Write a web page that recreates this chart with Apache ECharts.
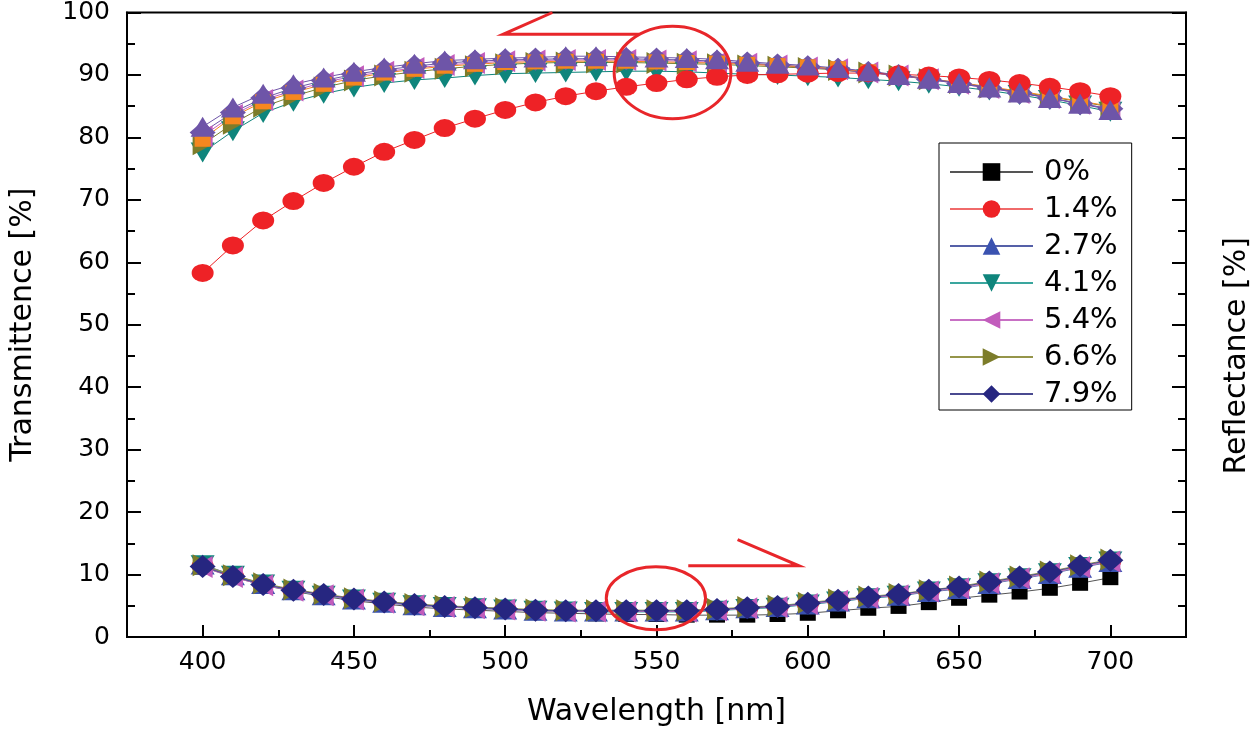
<!DOCTYPE html>
<html><head><meta charset="utf-8">
<script src="https://cdn.jsdelivr.net/npm/echarts@6/dist/echarts.min.js"></script>
<style>html,body{margin:0;padding:0;background:#fff}#c{width:1260px;height:732px}</style>
</head><body><div id="c"></div><script>
const wavelengths = [400,410,420,430,440,450,460,470,480,490,500,510,520,530,540,550,560,570,580,590,600,610,620,630,640,650,660,670,680,690,700];
const seriesNames = ['0%','1.4%','2.7%','4.1%','5.4%','6.6%','7.9%'];
const xTickValues = [400,450,500,550,600,650,700];
const xMinorValues = [425,475,525,575,625,675];

// Transmittance
const trans0  = [79.7,83.3,85.7,87.2,88.5,89.5,90.3,90.9,91.4,91.7,92.0,92.1,92.2,92.2,92.2,92.1,92.0,91.9,91.7,91.5,91.3,91.0,90.5,90.0,89.4,88.8,88.1,87.4,86.6,85.8,85.0];
const trans14 = [58.3,62.7,66.7,69.8,72.7,75.3,77.7,79.6,81.5,83.0,84.4,85.6,86.6,87.4,88.1,88.7,89.3,89.7,90.0,90.1,90.2,90.3,90.3,90.1,89.9,89.6,89.2,88.7,88.1,87.4,86.6];
const trans27 = [81.7,84.8,87.0,88.5,89.6,90.5,91.2,91.8,92.3,92.5,92.7,92.8,93.0,93.0,92.9,92.8,92.7,92.5,92.1,91.8,91.5,91.1,90.6,90.0,89.4,88.7,88.0,87.2,86.3,85.4,84.4];
const trans41 = [77.6,81.0,83.9,85.7,87.0,88.0,88.7,89.2,89.5,89.9,90.2,90.3,90.4,90.5,90.6,90.6,90.5,90.3,90.1,90.0,89.8,89.6,89.3,89.0,88.6,88.1,87.5,86.8,86.0,85.1,84.1];
const trans54 = [80.2,83.6,86.0,87.5,88.8,89.8,90.5,91.1,91.6,91.9,92.2,92.3,92.4,92.4,92.4,92.3,92.2,92.0,91.8,91.5,91.2,90.9,90.4,89.9,89.3,88.6,87.9,87.1,86.3,85.4,84.6];
const trans66 = [78.9,82.2,84.9,86.6,88.0,89.1,89.9,90.5,91.0,91.4,91.7,91.9,92.0,92.0,92.0,91.9,91.8,91.7,91.5,91.3,91.1,90.8,90.4,89.9,89.3,88.7,88.0,87.3,86.5,85.7,84.9];
const trans79 = [80.8,84.0,86.3,87.9,89.1,90.1,90.8,91.4,91.9,92.2,92.4,92.5,92.6,92.6,92.6,92.5,92.4,92.2,91.9,91.6,91.3,90.9,90.4,89.9,89.3,88.6,87.9,87.1,86.3,85.4,84.6];

// Reflectance
const refl0  = [11.2,9.6,8.3,7.3,6.5,5.8,5.3,4.8,4.5,4.3,4.1,3.9,3.8,3.7,3.6,3.6,3.5,3.5,3.5,3.6,3.8,4.2,4.6,4.9,5.5,6.2,6.7,7.2,7.8,8.6,9.5];
const refl14 = [11.4,9.8,8.5,7.5,6.8,6.1,5.6,5.2,4.9,4.7,4.5,4.3,4.2,4.1,4.1,4.1,4.1,4.3,4.6,4.8,5.3,5.8,6.3,6.7,7.4,7.9,8.7,9.5,10.3,11.3,12.2];
const refl27 = [11.6,9.9,8.5,7.5,6.7,6.0,5.5,5.1,4.8,4.6,4.4,4.2,4.1,4.1,4.1,4.1,4.1,4.3,4.6,4.8,5.2,5.7,6.2,6.6,7.2,7.7,8.5,9.3,10.1,11.1,12.0];
const refl41 = [11.5,9.8,8.4,7.4,6.6,6.0,5.5,5.1,4.8,4.6,4.4,4.2,4.1,4.0,4.0,4.0,4.0,4.2,4.5,4.7,5.2,5.7,6.2,6.6,7.3,7.8,8.6,9.4,10.2,11.2,12.1];
const refl54 = [11.2,9.6,8.3,7.4,6.7,6.0,5.5,5.1,4.8,4.6,4.4,4.2,4.1,4.1,4.1,4.1,4.1,4.3,4.6,4.8,5.3,5.8,6.3,6.7,7.3,7.8,8.6,9.4,10.2,11.2,12.1];
const refl66 = [11.5,9.9,8.6,7.6,6.9,6.2,5.7,5.3,5.0,4.8,4.6,4.4,4.3,4.3,4.3,4.3,4.3,4.5,4.8,5.0,5.5,6.0,6.5,6.9,7.5,8.1,8.9,9.7,10.5,11.5,12.4];
const refl79 = [11.3,9.7,8.4,7.5,6.8,6.1,5.6,5.2,4.9,4.7,4.5,4.3,4.2,4.2,4.2,4.2,4.2,4.4,4.7,4.9,5.4,5.9,6.4,6.8,7.5,8.0,8.8,9.6,10.4,11.4,12.3];

// Annotation shapes in data units: [x, y, rx, ry] and polylines
const annoEllipses = [[555.3, 90.4, 19.3, 7.4], [549.8, 6.2, 16.4, 5.05]];
const annoLines = [
  [[544.2, 96.5], [499.3, 96.5], [515.6, 100.0]],
  [[560.5, 11.4], [597.1, 11.4], [576.8, 15.6]]
];

const FONT = 'DejaVu Sans';
const markerStyle = {
  '0%':   {symbol:'rect', rot:0, size:[16,15], color:'#000000', line:'#555555'},
  '1.4%': {symbol:'circle', rot:0, size:[22,18], color:'#ee2226', line:'#f06a6a'},
  '2.7%': {symbol:'triangle', rot:0, size:[24,20], color:'#3a52b0', line:'#5560a8'},
  '4.1%': {symbol:'triangle', rot:180, size:[24,20], color:'#0f857c', line:'#3aa69e'},
  '5.4%': {symbol:'triangle', rot:90, size:[22,20], color:'#c25cbc', line:'#c870c4'},
  '6.6%': {symbol:'triangle', rot:-90, size:[22,20], color:'#7c7c2a', line:'#95954a'},
  '7.9%': {symbol:'diamond', rot:0, size:[26,23], color:'#262680', line:'#4a4a90'}
};
const transColors = {'0%':'#f5871f','1.4%':'#ee2226','2.7%':'#6e55a8','4.1%':'#0f857c','5.4%':'#c25cbc','6.6%':'#7c7c2a','7.9%':'#6e55a8'};

function pairs(vals){ return wavelengths.map((x,i)=>[x, vals[i]]); }
function mk(name, vals, color, lineColor){
  const m = markerStyle[name];
  return {
    type:'line', name:name, data:pairs(vals), xAxisIndex:0, yAxisIndex:0,
    symbol:m.symbol, symbolRotate:m.rot, symbolSize:m.size,
    itemStyle:{color:color}, lineStyle:{color:lineColor, width:1},
    emphasis:{disabled:true}, animation:false
  };
}
const reflMap = {'0%':refl0,'1.4%':refl14,'2.7%':refl27,'4.1%':refl41,'5.4%':refl54,'6.6%':refl66,'7.9%':refl79};
const transMap = {'0%':trans0,'1.4%':trans14,'2.7%':trans27,'4.1%':trans41,'5.4%':trans54,'6.6%':trans66,'7.9%':trans79};

const series = [];
seriesNames.forEach(n => series.push(mk(n, reflMap[n], markerStyle[n].color, markerStyle[n].line)));
['4.1%','6.6%','5.4%','7.9%','0%','1.4%','2.7%'].forEach(n => series.push(mk(n, transMap[n], transColors[n], transColors[n])));

const axisLineStyle = {color:'#000', width:2};
const chart = echarts.init(document.getElementById('c'));
chart.setOption({
  backgroundColor:'#fff',
  animation:false,
  grid:{left:120, right:64, top:11, bottom:86, show:true, borderColor:'#000', borderWidth:2},
  legend:{
    orient:'vertical', left:939, top:143, itemWidth:83, itemHeight:22, itemGap:7,
    padding:[14,14,1,10], borderColor:'#000', borderWidth:1, backgroundColor:'#fff',
    textStyle:{fontSize:29, fontFamily:FONT, color:'#000', lineHeight:30, padding:[0,0,0,6]},
    data:seriesNames, selectedMode:false
  },
  xAxis:[
    {type:'value', min:375, max:725, position:'bottom',
     axisLine:{lineStyle:axisLineStyle},
     axisTick:{inside:true, length:12, lineStyle:axisLineStyle, customValues:xTickValues},
     axisLabel:{customValues:xTickValues, fontSize:25, fontFamily:FONT, color:'#000', margin:13},
     splitLine:{show:false},
     name:'Wavelength [nm]', nameLocation:'middle', nameGap:60,
     nameTextStyle:{fontSize:30, fontFamily:FONT, color:'#000'}},
    {type:'value', min:375, max:725, position:'bottom',
     axisLine:{show:false},
     axisTick:{inside:true, length:7, lineStyle:axisLineStyle, customValues:xMinorValues},
     axisLabel:{show:false}, splitLine:{show:false}}
  ],
  yAxis:[
    {type:'value', min:0, max:100, interval:10, position:'left',
     axisLine:{show:true, lineStyle:axisLineStyle},
     axisTick:{inside:true, length:14, lineStyle:axisLineStyle},
     minorTick:{show:true, splitNumber:2, length:8, lineStyle:axisLineStyle},
     axisLabel:{fontSize:25, fontFamily:FONT, color:'#000', margin:17},
     splitLine:{show:false},
     name:'Transmittence [%]', nameLocation:'middle', nameGap:89, nameRotate:90,
     nameTextStyle:{fontSize:30, fontFamily:FONT, color:'#000'}},
    {type:'value', min:0, max:100, interval:10, position:'right',
     axisLine:{show:true, lineStyle:axisLineStyle},
     axisTick:{inside:true, length:14, lineStyle:axisLineStyle},
     minorTick:{show:true, splitNumber:2, length:8, lineStyle:axisLineStyle},
     axisLabel:{show:false},
     splitLine:{show:false},
     name:'Reflectance [%]', nameLocation:'middle', nameGap:36, nameRotate:90,
     nameTextStyle:{fontSize:30, fontFamily:FONT, color:'#000', padding:[0,62,0,0]}}
  ],
  series:series
});

function px(p){ return chart.convertToPixel({xAxisIndex:0, yAxisIndex:0}, p); }
const graphics = [];
const red = '#e8262a';
annoEllipses.forEach(e => {
  const c = px([e[0], e[1]]);
  const rx = px([e[0]+e[2], e[1]])[0] - c[0];
  const ry = c[1] - px([e[0], e[1]+e[3]])[1];
  graphics.push({type:'ellipse', z:100, shape:{cx:c[0], cy:c[1], rx:rx, ry:ry}, style:{fill:'none', stroke:red, lineWidth:3}});
});
annoLines.forEach(l => {
  graphics.push({type:'polyline', z:100, shape:{points:l.map(px)}, style:{fill:'none', stroke:red, lineWidth:3}});
});
chart.setOption({graphic:graphics});
</script></body></html>
